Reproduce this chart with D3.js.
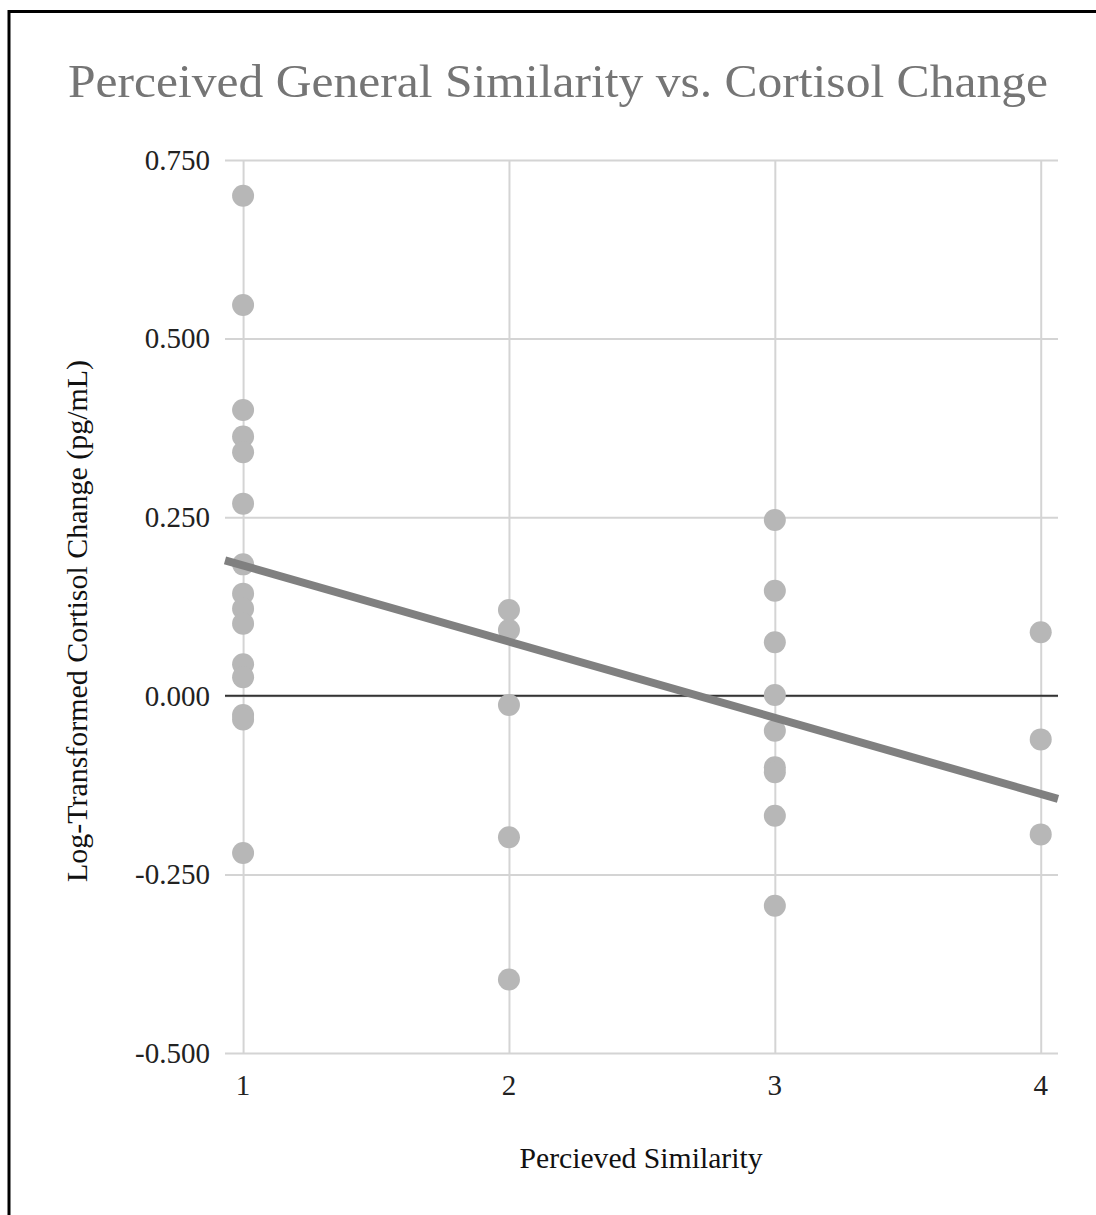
<!DOCTYPE html>
<html>
<head>
<meta charset="utf-8">
<script src="https://cdn.jsdelivr.net/npm/d3@7"></script>
<style>
  body { margin: 0; background: #fff; }
  text { font-family: "Liberation Serif", "Times New Roman", serif; }
</style>
</head>
<body>
<div id="chart"></div>
<script>
// values
var simLevels = [1, 2, 3, 4];
var cortisol1 = [0.700, 0.547, 0.400, 0.363, 0.341, 0.269, 0.184, 0.143, 0.122, 0.101, 0.044, 0.026, -0.027, -0.033, -0.220];
var cortisol2 = [0.120, 0.092, -0.013, -0.198, -0.397];
var cortisol3 = [0.246, 0.147, 0.075, 0.001, -0.049, -0.100, -0.107, -0.168, -0.294];
var cortisol4 = [0.089, -0.061, -0.194];
var yTicks = [-0.5, -0.25, 0, 0.25, 0.5, 0.75];
var trendIntercept = 0.289;
var trendSlope = -0.1066;

var w = 1096, h = 1215;

var points = [];
[cortisol1, cortisol2, cortisol3, cortisol4].forEach(function(arr, i){
  arr.forEach(function(v){
    points.push({x: simLevels[i], y: v});
  });
});

var x = d3.scaleLinear().domain([0.932, 4.065]).range([225, 1058]);
var y = d3.scaleLinear().domain([-0.5, 0.75]).range([1053, 160]);

var svg = d3.select("#chart")
  .append("svg")
  .attr("width", w)
  .attr("height", h);

// frame (only top and left are visible)
svg.append("rect")
  .attr("x", 9).attr("y", 11.5)
  .attr("width", 1200).attr("height", 1400)
  .attr("fill", "none")
  .attr("stroke", "#000")
  .attr("stroke-width", 3);

//Title
svg.append("text")
  .attr("x", 558).attr("y", 97)
  .attr("text-anchor", "middle")
  .attr("fill", "#757575")
  .attr("textLength", 980)
  .attr("lengthAdjust", "spacingAndGlyphs")
  .style("font-size", "47px")
  .text("Perceived General Similarity vs. Cortisol Change");

//Grid lines
svg.append("g")
  .attr("transform", "translate(0,1053)")
  .call(d3.axisBottom(x).tickValues(simLevels).tickSize(-893).tickFormat(""))
  .call(function(g){ g.select(".domain").remove(); })
  .selectAll("line").attr("stroke", "#d4d4d4").attr("stroke-width", 2);

var fmt = d3.format(".3f");
var yAxis = svg.append("g")
  .attr("transform", "translate(225,0)")
  .call(d3.axisLeft(y).tickValues(yTicks).tickSize(-833).tickPadding(15)
    .tickFormat(function(d){ return fmt(d).replace("\u2212", "-"); }));
yAxis.select(".domain").remove();
yAxis.selectAll("line")
  .attr("stroke", "#d4d4d4")
  .attr("stroke-width", 2);
yAxis.selectAll("text")
  .style("font-family", "'Liberation Serif', serif")
  .style("font-size", "29px")
  .attr("fill", "#222");

// zero line drawn on top of vertical grid
svg.append("line")
  .attr("x1", 225).attr("x2", 1058)
  .attr("y1", y(0)).attr("y2", y(0))
  .attr("stroke", "#333").attr("stroke-width", 2);

//x tick labels
svg.selectAll("text.xlab")
  .data(simLevels)
  .enter()
  .append("text")
  .attr("class", "xlab")
  .attr("x", function(d){ return x(d); })
  .attr("y", 1095)
  .attr("text-anchor", "middle")
  .attr("fill", "#222")
  .style("font-size", "29px")
  .text(function(d){ return d; });

//points
svg.selectAll("circle")
  .data(points)
  .enter()
  .append("circle")
  .attr("cx", function(d){ return x(d.x); })
  .attr("cy", function(d){ return y(d.y); })
  .attr("r", 11)
  .attr("fill", "#b7b7b7");

//trend line
var xd = x.domain();
svg.append("line")
  .attr("x1", x(xd[0])).attr("y1", y(trendIntercept + trendSlope * xd[0]))
  .attr("x2", x(xd[1])).attr("y2", y(trendIntercept + trendSlope * xd[1]))
  .attr("stroke", "#808080")
  .attr("stroke-width", 8);

//axis titles
svg.append("text")
  .attr("x", 641).attr("y", 1168)
  .attr("text-anchor", "middle")
  .attr("fill", "#111")
  .attr("textLength", 243)
  .attr("lengthAdjust", "spacingAndGlyphs")
  .style("font-size", "29px")
  .text("Percieved Similarity");

svg.append("text")
  .attr("transform", "translate(87,621) rotate(-90)")
  .attr("text-anchor", "middle")
  .attr("fill", "#111")
  .attr("textLength", 522)
  .attr("lengthAdjust", "spacingAndGlyphs")
  .style("font-size", "29px")
  .text("Log-Transformed Cortisol Change (pg/mL)");
</script>
</body>
</html>
